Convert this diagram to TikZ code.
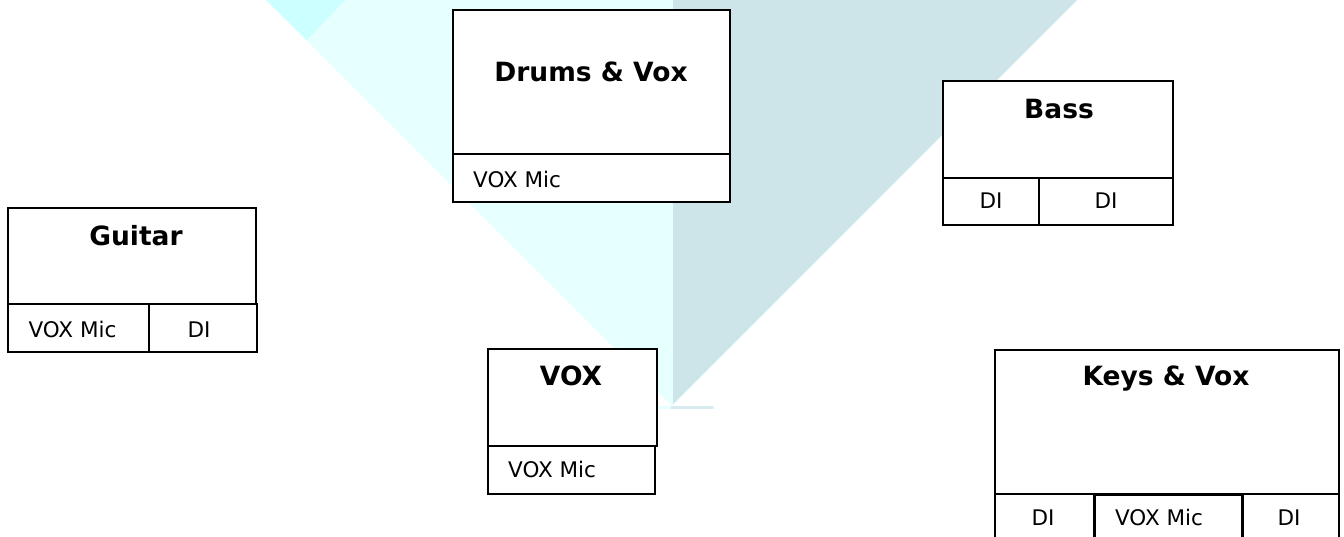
\documentclass[tikz,border=0pt]{standalone}
\usepackage{fontspec}
\setmainfont{DejaVu Sans}
\definecolor{lightcy}{HTML}{E6FFFF}
\definecolor{midcy}{HTML}{CCFFFF}
\definecolor{greyblue}{HTML}{CDE5E9}
\tikzset{
  cell/.style={draw=black, fill=white, line width=2pt, inner sep=0pt, anchor=north west},
  title/.style={inner sep=0pt, anchor=base, font=\bfseries\fontsize{26.5}{31}\selectfont},
  lbl/.style={inner sep=0pt, anchor=base, font=\fontsize{21.5}{25}\selectfont},
  lblw/.style={lbl, anchor=base west}
}
\begin{document}
\begin{tikzpicture}[x=1pt, y=-1pt]
\useasboundingbox (0,0) rectangle (1344,536);
\clip (0,0) rectangle (1344,536);
% background light beam
\fill[lightcy] (266,0) -- (1077,0) -- (672,406) -- cycle;
\fill[greyblue] (673,0) -- (1077,0) -- (673,404) -- cycle;
\fill[midcy] (266,0) -- (345,0) -- (307,40) -- cycle;
\fill[lightcy] (657,406) rectangle (715,409);
\fill[greyblue!80!white] (671,406) rectangle (713,409);

% Drums & Vox
\node[cell, minimum width=277pt, minimum height=144pt] (drumsT) at (452,9) {};
\node[cell, minimum width=277pt, minimum height=48pt] (drumsB) at (452,153) {};
\node[title] (drumsLbl) at (591,81) {Drums \& Vox};
\node[lblw] (drumsMic) at (473,187) {VOX Mic};

% Bass
\node[cell, minimum width=230pt, minimum height=97pt] (bassT) at (942,80) {};
\node[cell, minimum width=96pt, minimum height=47pt] (bassB1) at (942,177) {};
\node[cell, minimum width=134pt, minimum height=47pt] (bassB2) at (1038,177) {};
\node[title] (bassLbl) at (1059,118) {Bass};
\node[lbl] (bassDI1) at (991,208) {DI};
\node[lbl] (bassDI2) at (1106,208) {DI};

% Guitar
\node[cell, minimum width=248pt, minimum height=96pt] (gtrT) at (7,207) {};
\node[cell, minimum width=141pt, minimum height=48pt] (gtrB1) at (7,303) {};
\node[cell, minimum width=108pt, minimum height=48pt] (gtrB2) at (148,303) {};
\node[title] (gtrLbl) at (136,245) {Guitar};
\node[lbl] (gtrMic) at (72.5,337) {VOX Mic};
\node[lbl] (gtrDI) at (199,337) {DI};

% VOX
\node[cell, minimum width=169pt, minimum height=97pt] (voxT) at (487,348) {};
\node[cell, minimum width=167pt, minimum height=48pt] (voxB) at (487,445) {};
\node[title] (voxLbl) at (571,385) {VOX};
\node[lblw] (voxMic) at (508,477) {VOX Mic};

% Keys & Vox
\node[cell, minimum width=344pt, minimum height=144pt] (keysT) at (994,349) {};
\node[cell, minimum width=99pt, minimum height=56pt] (keysB1) at (994,493) {};
\node[cell, minimum width=149pt, minimum height=56pt, line width=2.6pt] (keysB2) at (1093,493) {};
\node[cell, minimum width=96pt, minimum height=56pt] (keysB3) at (1242,493) {};
\draw[line width=3pt] (keysB3.north west) -- (keysB3.south west);
\node[title] (keysLbl) at (1166,385) {Keys \& Vox};
\node[lbl] (keysDI1) at (1043,525) {DI};
\node[lbl] (keysMic) at (1159,525) {VOX Mic};
\node[lbl] (keysDI2) at (1289,525) {DI};
\end{tikzpicture}
\end{document}
